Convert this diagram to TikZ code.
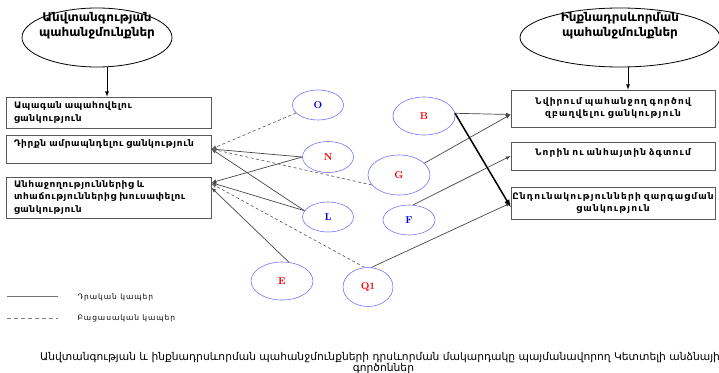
\documentclass[tikz,border=0pt]{standalone}
\usepackage{fontspec}
\newfontfamily\armfont{DejaVu Sans}
\newfontfamily\armmid[LetterSpace=7]{DejaVu Sans}
\newfontfamily\armwide[LetterSpace=13]{DejaVu Sans}
\usetikzlibrary{arrows}
\usetikzlibrary{shapes.geometric}

\begin{document}
\begin{tikzpicture}[x=1pt,y=-1pt,>=latex]
		\tikzset{need/.style={shape = ellipse, draw, line width = 0.8pt, inner sep = 0pt}}
		\tikzset{needtext/.style={font = \armfont\bfseries\fontsize{12}{15}\selectfont, align = center}}
		\tikzset{wish/.style={draw = black!65, line width = 0.7pt, inner sep = 3pt,
				font = \armmid\bfseries\fontsize{9}{12.5}\selectfont}}
		\tikzset{wishwide/.style={wish, inner xsep = 0pt, font = \armwide\bfseries\fontsize{9}{12}\selectfont}}
		\tikzset{factor/.style={shape = ellipse, draw = blue!55, line width = 0.6pt, inner sep = 0pt,
				minimum width = 51pt, minimum height = 31pt, font = \bfseries\fontsize{10}{12}\selectfont}}
		\tikzset{poslink/.style={draw = black!72, line width = 0.7pt}}
		\tikzset{neglink/.style={draw = black!60, line width = 0.7pt, dash pattern = on 3pt off 2.5pt}}
		\useasboundingbox (0,0) rectangle (719,372);
		%needs
		\node[need, minimum width = 150pt, minimum height = 59pt] (lneed) at (97,37.5) {};
		\node[needtext] (lneedtxt) at ([yshift = 12pt]lneed.center) {Անվտանգության\\ պահանջմունքներ};
		\node[need, minimum width = 200pt, minimum height = 59pt] (rneed) at (620,37.5) {};
		\node[needtext] (rneedtxt) at ([yshift = 12pt]rneed.center) {Ինքնադրսևորման\\ պահանջմունքներ};
		%wishes
		\node[wish, text width = 189pt, inner xsep = 8pt, align = left, minimum height = 31pt] (lb1) at (108.5,112.5) {Ապագան ապահովելու\\[1pt] ցանկություն};
		\node[wish, text width = 189pt, inner xsep = 8pt, align = left, minimum height = 28pt, text height = 8pt, text depth = 14pt] (lb2) at (108.5,149) {Դիրքն ամրապնդելու ցանկություն};
		\node[wish, text width = 189pt, inner xsep = 8pt, align = left, minimum height = 41pt] (lb3) at (108.5,197.5) {Անհաջողություններից և\\ տհաճություններից խուսափելու\\ ցանկություն};
		\node[wishwide, text width = 204pt, align = center, minimum height = 37pt] (rb1) at (613,108.5) {Նվիրում պահանջող գործով\\ զբաղվելու ցանկություն};
		\node[wishwide, text width = 204pt, align = center, minimum height = 28pt, text height = 10pt, text depth = 12pt] (rb2) at (613,156) {Նորին ու անհայտին ձգտում};
		\node[wishwide, text width = 204pt, align = center, minimum height = 32pt] (rb3) at (613,203) {Ընդունակությունների զարգացման\\ ցանկություն};
		%factors
		\node[factor, text = blue!90!black, minimum height = 30pt] (O) at (318,105) {O};
		\node[factor, text = red] (N) at (328,157) {N};
		\node[factor, text = blue!90!black, minimum height = 30pt] (L) at (328,217) {L};
		\node[factor, text = red, minimum width = 62pt, minimum height = 38pt] (B) at (424,116) {B};
		\node[factor, text = red, minimum width = 62pt, minimum height = 40pt] (G) at (399,175) {G};
		\node[factor, text = blue!90!black, minimum width = 52pt, minimum height = 30pt] (F) at (409,220) {F};
		\node[factor, text = red, minimum width = 62pt, minimum height = 38pt] (E) at (282,281) {E};
		\node[factor, text = red, minimum width = 50pt, minimum height = 39pt] (Q1) at (368,287) {Q1};
		%edges
		\draw[->, line width = 0.8pt] ([xshift = 10pt]lneed.south) -- ([xshift = 10pt]lneed.south |- lb1.north);
		\draw[->, line width = 0.8pt] ([xshift = 8pt]rneed.south) -- ([xshift = 8pt]rneed.south |- rb1.north);
		\path (O.200) edge[neglink, ->] (lb2.east);
		\path (N.west) edge[poslink, ->] (lb2.east);
		\path (N.west) edge[poslink, ->] ([yshift = -6pt]lb3.north east);
		\path (L.165) edge[poslink, ->] (lb2.east);
		\path (L.165) edge[poslink, ->] ([yshift = -6pt]lb3.north east);
		\path (G.200) edge[neglink, ->] (lb2.east);
		\path (Q1.100) edge[neglink, ->] ([yshift = -7pt]lb3.north east);
		\path (E.70) edge[poslink, ->] ([yshift = -11pt]lb3.north east);
		\path (B.5) edge[poslink, ->] ([yshift = -6pt]rb1.west);
		\path (G.25) edge[poslink, ->] ([yshift = -6pt]rb1.west);
		\path (F.75) edge[poslink, ->] (rb2.west);
		\path (Q1.80) edge[poslink, ->] (rb3.west);
		\path (B.5) edge[->, line width = 1.5pt] ([yshift = -4pt]rb3.west);
		%legend
		\node[anchor = west, font = \armwide\fontsize{7.5}{9}\selectfont] (lgpos) at (74,297) {Դրական կապեր};
		\node[anchor = west, font = \armwide\fontsize{7.5}{9}\selectfont] (lgneg) at (74,318) {Բացասական կապեր};
		\coordinate (lgposa) at (7,296);
		\coordinate (lgposb) at (58,296);
		\coordinate (lgnega) at (7,318);
		\coordinate (lgnegb) at (58,318);
		\draw[draw = black!55, line width = 0.7pt] (lgposa) -- (lgposb);
		\draw[neglink, draw = black!50, dash pattern = on 3.5pt off 3.5pt] (lgnega) -- (lgnegb);
		%caption
		\node[anchor = north west, align = center, inner sep = 0pt, font = \armfont\fontsize{10.7}{10.5}\selectfont] (caption) at (40,352.5) {Անվտանգության և ինքնադրսևորման պահանջմունքների  դրսևորման մակարդակը պայմանավորող Կետտելի անձնային\\ գործոններ};
\end{tikzpicture}
\end{document}
